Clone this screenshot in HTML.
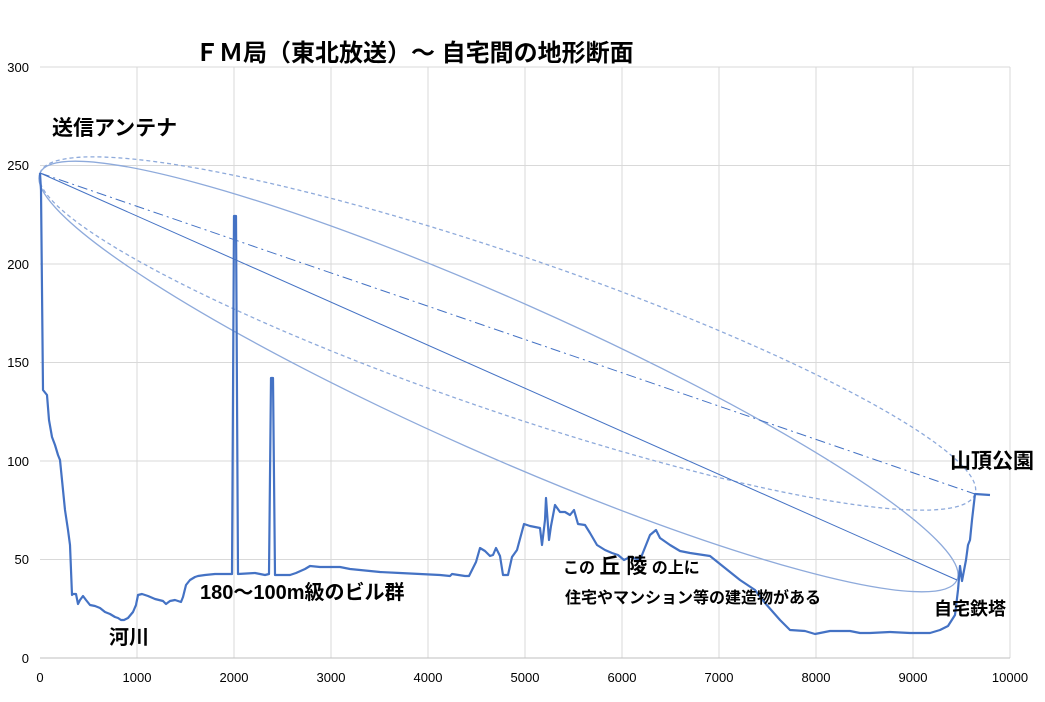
<!DOCTYPE html>
<html><head><meta charset="utf-8"><style>
body{margin:0;background:#fff;}
svg text{font-family:"Liberation Sans","Noto Sans CJK JP",sans-serif;}
</style></head><body>
<svg width="1045" height="697" viewBox="0 0 1045 697" xmlns="http://www.w3.org/2000/svg">
<rect width="1045" height="697" fill="#fff"/>
<g stroke="#d9d9d9" stroke-width="1">
<line x1="40" y1="67" x2="1010" y2="67"/><line x1="40" y1="165.5" x2="1010" y2="165.5"/>
<line x1="40" y1="264" x2="1010" y2="264"/><line x1="40" y1="362.5" x2="1010" y2="362.5"/>
<line x1="40" y1="461" x2="1010" y2="461"/><line x1="40" y1="559.5" x2="1010" y2="559.5"/>
<line x1="137" y1="67" x2="137" y2="658"/><line x1="234" y1="67" x2="234" y2="658"/>
<line x1="331" y1="67" x2="331" y2="658"/><line x1="428" y1="67" x2="428" y2="658"/>
<line x1="525" y1="67" x2="525" y2="658"/><line x1="622" y1="67" x2="622" y2="658"/>
<line x1="719" y1="67" x2="719" y2="658"/><line x1="816" y1="67" x2="816" y2="658"/>
<line x1="913" y1="67" x2="913" y2="658"/><line x1="1010" y1="67" x2="1010" y2="658"/>
</g>
<line x1="40" y1="658" x2="1010" y2="658" stroke="#bfbfbf"/>
<g font-size="13" fill="#000" text-anchor="end">
<text x="29" y="72">300</text><text x="29" y="170">250</text><text x="29" y="269">200</text>
<text x="29" y="367">150</text><text x="29" y="466">100</text><text x="29" y="564">50</text><text x="29" y="663">0</text>
</g>
<g font-size="13" fill="#000" text-anchor="middle">
<text x="40" y="682">0</text><text x="137" y="682">1000</text><text x="234" y="682">2000</text><text x="331" y="682">3000</text>
<text x="428" y="682">4000</text><text x="525" y="682">5000</text><text x="622" y="682">6000</text><text x="719" y="682">7000</text>
<text x="816" y="682">8000</text><text x="913" y="682">9000</text><text x="1010" y="682">10000</text>
</g>
<g fill="none" stroke="#8eaadb" stroke-width="1.3">
<ellipse cx="498.5" cy="376.5" rx="501.6" ry="77" transform="rotate(23.93 498.5 376.5)"/>
<ellipse cx="507.5" cy="333.5" rx="494.3" ry="78" transform="rotate(18.95 507.5 333.5)" stroke-dasharray="4,3"/>
</g>
<line x1="40" y1="173" x2="957" y2="580" stroke="#4472c4" stroke-width="1"/>
<line x1="40" y1="173" x2="975" y2="494" stroke="#4472c4" stroke-width="1" stroke-dasharray="10,4,2,4"/>
<polyline fill="none" stroke="#4472c4" stroke-width="2.2" stroke-linejoin="round" points="40,173 41,190 43,390 47,395 49,420 52,437 55,445 58,455 60,460 62,480 65,510 68,530 70,545 72,595 73,594 76,594 78,604 80,600 83,596 86,600 90,605 95,606 100,608 105,612 110,614 115,617 118,618 121,620 124,620 128,618 133,612 136,605 138,595 142,594 148,596 155,599 163,601 166,604 170,601 175,600 181,602 183,597 186,585 190,580 195,577 198,576 205,575 215,574 222,574 231,574 232,574 234,216 236,216 238,574 255,573 265,575 269,574 271,378 273,378 275,575 290,575 296,573 305,569 310,566 320,567 340,567 350,569 370,571 380,572 400,573 420,574 440,575 450,576 452,574 465,576 469,576 476,562 480,548 485,551 490,556 493,555 496,548 500,556 503,575 508,575 512,557 517,550 524,524 530,526 540,528 542,545 545,520 546,498 549,540 551,526 555,505 560,512 565,512 570,515 574,510 578,524 585,525 590,533 597,545 605,550 612,553 618,555 624,560 630,557 640,560 650,535 656,530 660,538 670,545 680,551 690,553 710,556 720,564 730,572 740,580 755,590 765,603 780,620 790,630 805,631 815,634 830,631 850,631 860,633 870,633 890,632 910,633 930,633 940,630 948,626 955,615 958,590 960,566 962,581 966,560 968,545 970,540 972,520 975,494 990,495"/>
<text x="195" y="61" font-size="24" font-weight="bold">ＦＭ局（東北放送）～ 自宅間の地形断面</text>
<g font-weight="bold" fill="#000">
<text x="52" y="135" font-size="21">送信アンテナ</text>
<text x="950" y="468" font-size="21">山頂公園</text>
<text x="934" y="615" font-size="18">自宅鉄塔</text>
<text x="109" y="644" font-size="20">河川</text>
<text x="200" y="599" font-size="20">180～100m級のビル群</text>
<text x="563" y="573" font-size="16">この <tspan font-size="21">丘 陵</tspan> の上に</text>
<text x="565" y="603" font-size="16">住宅やマンション等の建造物がある</text>
</g>
</svg>
</body></html>
